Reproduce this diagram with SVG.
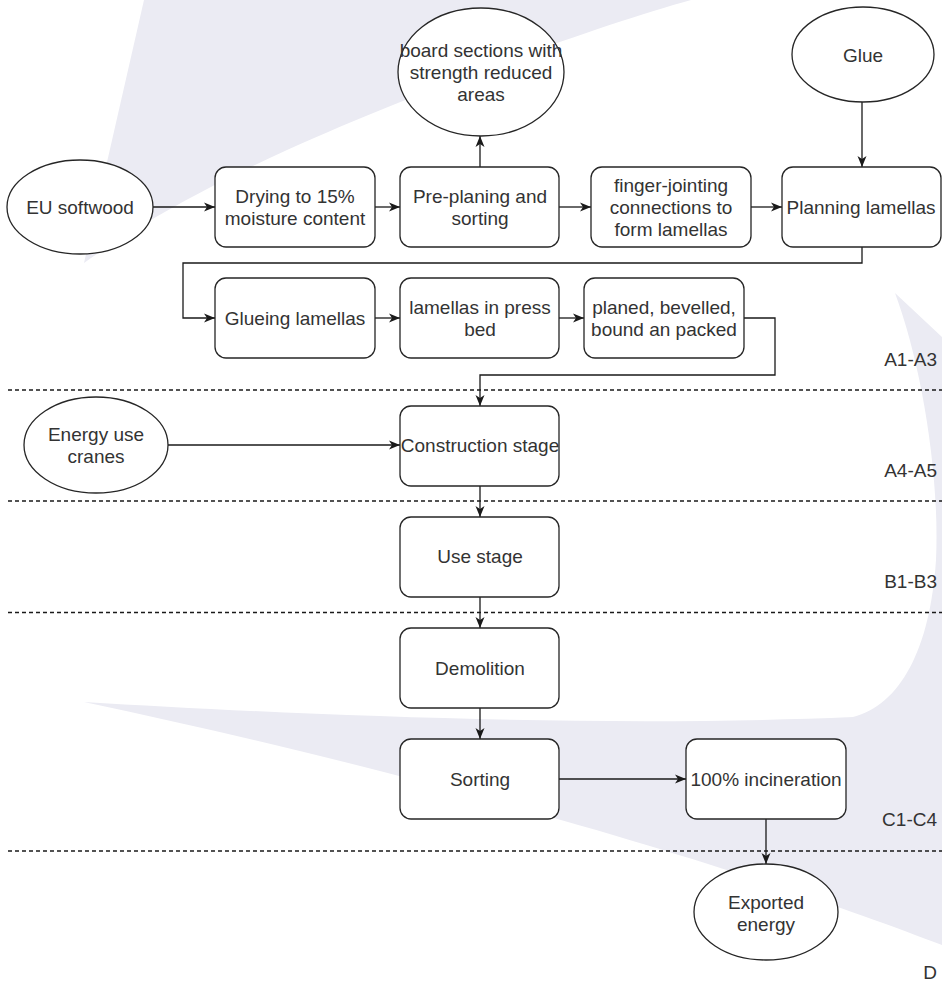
<svg xmlns="http://www.w3.org/2000/svg" width="942" height="984" viewBox="0 0 942 984">
<style>
.bg{fill:#ebebf3;stroke:none}
.box{fill:#fff;stroke:#262626;stroke-width:1.3}
.ell{fill:#fff;stroke:#262626;stroke-width:1.3}
.t{font-family:"Liberation Sans",Arial,sans-serif;font-size:19px;fill:#333;text-anchor:middle}
.lbl{font-family:"Liberation Sans",Arial,sans-serif;font-size:19px;fill:#333;text-anchor:end}
.c{fill:none;stroke:#1a1a1a;stroke-width:1.3}
.dash{fill:none;stroke:#1a1a1a;stroke-width:1.3;stroke-dasharray:4 3}
</style>
<defs>
<marker id="arr" viewBox="0 0 11 10" refX="11" refY="5" markerWidth="11" markerHeight="10" markerUnits="userSpaceOnUse" orient="auto">
<path d="M0,0.5 L11,5 L0,9.5 L3,5 Z" fill="#1a1a1a"/>
</marker>
</defs>
<rect width="942" height="984" fill="#fff"/>
<g id="background">
<path class="bg" d="M144,0 L691,0 C600,25 420,90 287,150 C200,190 130,230 84,263 Z"/>
<path class="bg" d="M895,293 C920,360 940,470 936,560 C930,650 900,705 853,717 C600,728 300,715 84,702 C500,790 800,890 942,945 L942,337 Z"/>
</g>
<g id="phases">
<line class="dash" x1="8" y1="390" x2="942" y2="390"/>
<line class="dash" x1="8" y1="501" x2="942" y2="501"/>
<line class="dash" x1="8" y1="612.5" x2="942" y2="612.5"/>
<line class="dash" x1="8" y1="851" x2="942" y2="851"/>
<text class="lbl" x="937" y="366">A1-A3</text>
<text class="lbl" x="937" y="477">A4-A5</text>
<text class="lbl" x="937" y="588">B1-B3</text>
<text class="lbl" x="937" y="826">C1-C4</text>
<text class="lbl" x="937" y="979">D</text>
</g>
<g id="connectors">
<line class="c" x1="153" y1="207" x2="215" y2="207" marker-end="url(#arr)"/>
<line class="c" x1="375" y1="207" x2="400" y2="207" marker-end="url(#arr)"/>
<line class="c" x1="480" y1="167" x2="480" y2="136" marker-end="url(#arr)"/>
<line class="c" x1="559" y1="207" x2="591" y2="207" marker-end="url(#arr)"/>
<line class="c" x1="751" y1="207" x2="782" y2="207" marker-end="url(#arr)"/>
<line class="c" x1="862" y1="102" x2="862" y2="167" marker-end="url(#arr)"/>
<path class="c" d="M862,247 V263 H183 V318 H215" marker-end="url(#arr)"/>
<line class="c" x1="375" y1="318" x2="400" y2="318" marker-end="url(#arr)"/>
<line class="c" x1="559" y1="318" x2="584" y2="318" marker-end="url(#arr)"/>
<path class="c" d="M744,318 H775 V375 H480 V406" marker-end="url(#arr)"/>
<line class="c" x1="168" y1="445" x2="400" y2="445" marker-end="url(#arr)"/>
<line class="c" x1="480" y1="486" x2="480" y2="517" marker-end="url(#arr)"/>
<line class="c" x1="480" y1="597" x2="480" y2="628" marker-end="url(#arr)"/>
<line class="c" x1="480" y1="708" x2="480" y2="739" marker-end="url(#arr)"/>
<line class="c" x1="559" y1="779" x2="686" y2="779" marker-end="url(#arr)"/>
<line class="c" x1="766" y1="819" x2="766" y2="864" marker-end="url(#arr)"/>
</g>
<g id="eu-softwood">
<ellipse class="ell" cx="80" cy="207" rx="73" ry="47"/>
<text class="t" x="80" y="214">EU softwood</text>
</g>
<g id="drying">
<rect class="box" x="215" y="167" width="160" height="80" rx="11"/>
<text class="t" x="295" y="203">Drying to 15%</text>
<text class="t" x="295" y="225">moisture content</text>
</g>
<g id="pre-planing">
<rect class="box" x="400" y="167" width="159" height="80" rx="11"/>
<text class="t" x="480" y="203">Pre-planing and</text>
<text class="t" x="480" y="225">sorting</text>
</g>
<g id="board-sections">
<ellipse class="ell" cx="481" cy="72" rx="83" ry="64"/>
<text class="t" x="481" y="57">board sections with</text>
<text class="t" x="481" y="79">strength reduced</text>
<text class="t" x="481" y="101">areas</text>
</g>
<g id="finger-jointing">
<rect class="box" x="591" y="167" width="160" height="80" rx="11"/>
<text class="t" x="671" y="192">finger-jointing</text>
<text class="t" x="671" y="214">connections to</text>
<text class="t" x="671" y="236">form lamellas</text>
</g>
<g id="glue">
<ellipse class="ell" cx="863" cy="54.5" rx="71" ry="47.5"/>
<text class="t" x="863" y="62">Glue</text>
</g>
<g id="planning-lamellas">
<rect class="box" x="782" y="167" width="159" height="80" rx="11"/>
<text class="t" x="861" y="214">Planning lamellas</text>
</g>
<g id="glueing-lamellas">
<rect class="box" x="215" y="278" width="160" height="80" rx="11"/>
<text class="t" x="295" y="325">Glueing lamellas</text>
</g>
<g id="press-bed">
<rect class="box" x="400" y="278" width="159" height="80" rx="11"/>
<text class="t" x="480" y="314">lamellas in press</text>
<text class="t" x="480" y="336">bed</text>
</g>
<g id="planed">
<rect class="box" x="584" y="278" width="160" height="80" rx="11"/>
<text class="t" x="664" y="314">planed, bevelled,</text>
<text class="t" x="664" y="336">bound an packed</text>
</g>
<g id="energy-cranes">
<ellipse class="ell" cx="96" cy="445" rx="72" ry="48"/>
<text class="t" x="96" y="441">Energy use</text>
<text class="t" x="96" y="463">cranes</text>
</g>
<g id="construction">
<rect class="box" x="400" y="406" width="159" height="80" rx="11"/>
<text class="t" x="480" y="452">Construction stage</text>
</g>
<g id="use-stage">
<rect class="box" x="400" y="517" width="159" height="80" rx="11"/>
<text class="t" x="480" y="563">Use stage</text>
</g>
<g id="demolition">
<rect class="box" x="400" y="628" width="159" height="80" rx="11"/>
<text class="t" x="480" y="675">Demolition</text>
</g>
<g id="sorting">
<rect class="box" x="400" y="739" width="159" height="80" rx="11"/>
<text class="t" x="480" y="786">Sorting</text>
</g>
<g id="incineration">
<rect class="box" x="686" y="739" width="160" height="80" rx="11"/>
<text class="t" x="766" y="786">100% incineration</text>
</g>
<g id="exported-energy">
<ellipse class="ell" cx="766" cy="912" rx="72" ry="48"/>
<text class="t" x="766" y="909">Exported</text>
<text class="t" x="766" y="931">energy</text>
</g>
</svg>
